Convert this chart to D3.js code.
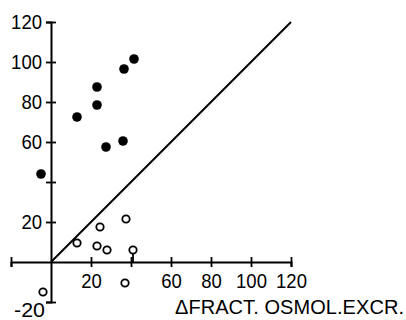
<!DOCTYPE html>
<html>
<head>
<meta charset="utf-8">
<script src="https://cdn.jsdelivr.net/npm/d3@7"></script>
<style>
  html, body { margin: 0; padding: 0; background: #fff; }
  svg { display: block; font-family: "Liberation Sans", Arial, sans-serif; }
  .domain { stroke: #000; stroke-width: 2; }
  .tick line { stroke: #000; stroke-width: 1.8; }
  .tick text { fill: #000; font-size: 20px; }
</style>
</head>
<body>
<svg id="chart" width="406" height="320"></svg>
<script>
// values
const filledX = [-5, 13, 23, 23, 27.5, 36, 36.5, 41.5];
const filledY = [44, 72.5, 87.5, 78.5, 57.5, 60.5, 96.5, 101.5];
const openX = [-4, 13, 23, 24.5, 28, 37, 37.5, 41];
const openY = [-15, 9.5, 8, 17.5, 6, -10.5, 21.5, 6];
const xTicks = [-20, 20, 40, 60, 80, 100, 120];
const xLabels = [20, 60, 80, 100, 120];
const yTicks = [-20, 20, 40, 60, 80, 100, 120];
const yLabels = [20, 60, 80, 100, 120];
const lineX = [0, 120];
const xTitle = 'ΔFRACT. OSMOL.EXCR.';

const svg = d3.select('#chart');

const x = d3.scaleLinear().domain([-20, 120]).range([11, 291]);
const y = d3.scaleLinear().domain([-20, 120]).range([302, 22]);

// narrow lettering like the original
const squeeze = sel => sel
  .filter(function() { return this.textContent.length > 0; })
  .attr('textLength', function() { return this.textContent.length * 10.3; })
  .attr('lengthAdjust', 'spacingAndGlyphs');

// X Axis
const gx = svg.append('g')
  .attr('transform', `translate(0,${y(0)})`)
  .call(d3.axisBottom(x)
    .tickValues(xTicks)
    .tickSizeOuter(0)
    .tickSize(5)
    .tickPadding(7)
    .tickFormat(d => xLabels.includes(d) ? d : ''));
gx.selectAll('.tick line').attr('y1', -5).attr('y2', 5);
gx.selectAll('.tick text').call(squeeze);

// Y Axis
const gy = svg.append('g')
  .attr('transform', `translate(${x(0)},0)`)
  .call(d3.axisLeft(y)
    .tickValues(yTicks)
    .tickSizeOuter(0)
    .tickSize(5)
    .tickPadding(4)
    .tickFormat(d => yLabels.includes(d) ? d : ''));
gy.selectAll('.tick line').attr('x1', -5).attr('x2', 5);
gy.selectAll('.tick text').call(squeeze);

// -20 label sits below its tick, near the corner
svg.append('text')
  .attr('x', x(0) - 6)
  .attr('y', y(-20) + 15)
  .attr('text-anchor', 'end')
  .attr('font-size', '20px')
  .text('-20')
  .call(squeeze);

// identity line
svg.append('line')
  .attr('x1', x(lineX[0])).attr('y1', y(lineX[0]))
  .attr('x2', x(lineX[1])).attr('y2', y(lineX[1]))
  .attr('stroke', '#000')
  .attr('stroke-width', 2);

// stem under the last open circle
const last = openX.length - 1;
svg.append('line')
  .attr('x1', x(openX[last])).attr('x2', x(openX[last]))
  .attr('y1', y(openY[last]) + 3).attr('y2', y(0))
  .attr('stroke', '#000')
  .attr('stroke-width', 1.8);

// filled points
svg.append('g')
  .selectAll('circle')
  .data(d3.zip(filledX, filledY))
  .join('circle')
  .attr('cx', d => x(d[0]))
  .attr('cy', d => y(d[1]))
  .attr('r', 4.8)
  .attr('fill', '#000');

// open points
svg.append('g')
  .selectAll('circle')
  .data(d3.zip(openX, openY))
  .join('circle')
  .attr('cx', d => x(d[0]))
  .attr('cy', d => y(d[1]))
  .attr('r', 3.7)
  .attr('fill', '#fff')
  .attr('stroke', '#000')
  .attr('stroke-width', 1.8);

// axis title
svg.append('text')
  .attr('x', 175)
  .attr('y', 314)
  .attr('font-size', '20px')
  .attr('textLength', 229)
  .attr('lengthAdjust', 'spacing')
  .text(xTitle);
</script>
</body>
</html>
